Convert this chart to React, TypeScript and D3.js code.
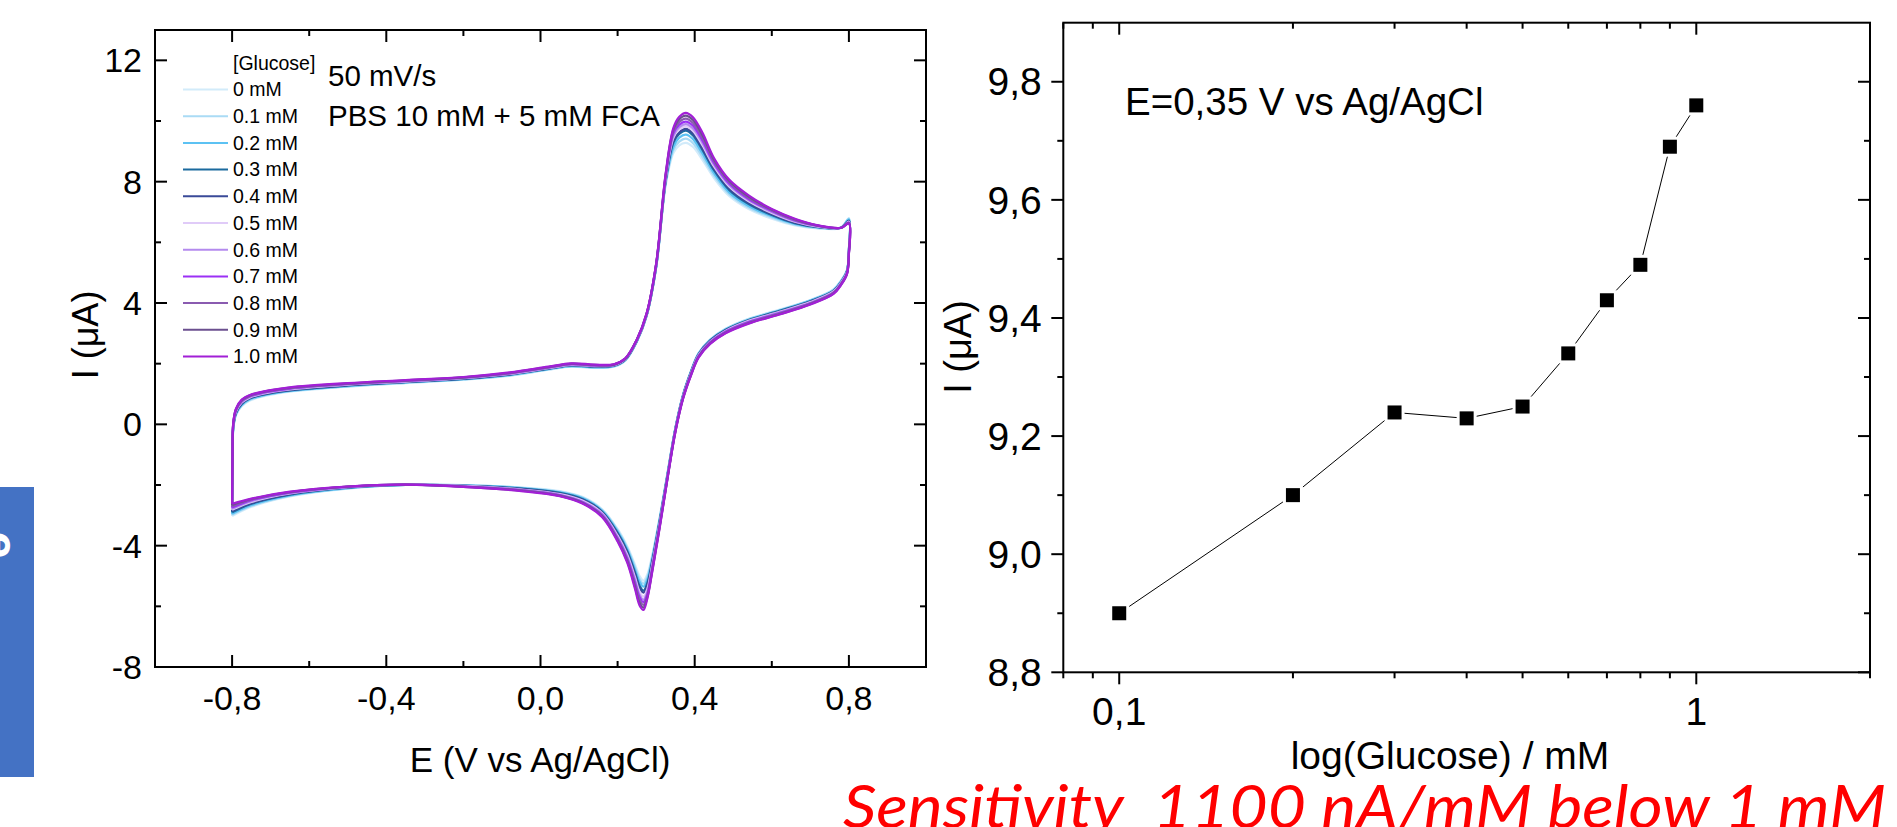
import React from "react";
import * as d3 from "d3";

// ---------------- Left panel: cyclic voltammograms ----------------
const CONC_LABELS = ["0 mM", "0.1 mM", "0.2 mM", "0.3 mM", "0.4 mM", "0.5 mM", "0.6 mM", "0.7 mM", "0.8 mM", "0.9 mM", "1.0 mM"];
const CONC_COLORS = ["#d2ebfa", "#aadbf5", "#5cc2f3", "#1b6a9e", "#3a4a98", "#e0cbf8", "#b48aee", "#9b30f5", "#8a5bb0", "#6b4f8f", "#a21fd6"];

// potential (V) along the loop: forward scan then reverse scan
const E_FWD = [-0.80, -0.799, -0.797, -0.79, -0.775, -0.755, -0.72, -0.65, -0.50, -0.35, -0.20, -0.08, 0.02, 0.08, 0.14, 0.19, 0.22, 0.25, 0.275, 0.30, 0.325, 0.345, 0.36, 0.377, 0.395, 0.42, 0.45, 0.49, 0.54, 0.60, 0.66, 0.72, 0.78, 0.80];
const E_REV = [0.80, 0.795, 0.78, 0.76, 0.70, 0.62, 0.54, 0.48, 0.44, 0.41, 0.39, 0.37, 0.35, 0.33, 0.31, 0.29, 0.277, 0.267, 0.257, 0.245, 0.225, 0.20, 0.16, 0.11, 0.05, -0.05, -0.20, -0.35, -0.50, -0.65, -0.75, -0.80];

// current (µA), forward scan, per concentration
const I_FWD_00 = [-3.02, -1.3, -0.2, 0.3, 0.6, 0.78, 0.92, 1.08, 1.24, 1.36, 1.47, 1.6, 1.8, 1.9, 1.86, 1.9, 2.1, 2.72, 3.55, 5.15, 7.9, 8.95, 9.2, 9.28, 9.15, 8.72, 8.12, 7.52, 7.1, 6.78, 6.56, 6.46, 6.48, 6.8];
const I_FWD_01 = [-2.98, -1.27, -0.17, 0.32, 0.62, 0.8, 0.94, 1.09, 1.25, 1.37, 1.48, 1.61, 1.81, 1.91, 1.87, 1.91, 2.11, 2.73, 3.56, 5.17, 7.95, 9.05, 9.32, 9.42, 9.28, 8.82, 8.2, 7.58, 7.15, 6.82, 6.58, 6.47, 6.49, 6.78];
const I_FWD_02 = [-2.95, -1.24, -0.14, 0.34, 0.64, 0.82, 0.95, 1.1, 1.26, 1.38, 1.49, 1.62, 1.82, 1.92, 1.88, 1.92, 2.12, 2.74, 3.57, 5.18, 8.0, 9.15, 9.45, 9.55, 9.41, 8.93, 8.28, 7.64, 7.2, 6.86, 6.61, 6.49, 6.49, 6.76];
const I_FWD_03 = [-2.9, -1.2, -0.1, 0.37, 0.67, 0.85, 0.98, 1.12, 1.28, 1.39, 1.5, 1.64, 1.83, 1.94, 1.9, 1.93, 2.13, 2.75, 3.58, 5.2, 8.05, 9.3, 9.57, 9.68, 9.53, 9.05, 8.38, 7.72, 7.26, 6.9, 6.63, 6.5, 6.48, 6.72];
const I_FWD_04 = [-2.86, -1.18, -0.08, 0.39, 0.69, 0.86, 0.99, 1.13, 1.29, 1.4, 1.51, 1.65, 1.84, 1.95, 1.91, 1.94, 2.14, 2.76, 3.59, 5.22, 8.08, 9.36, 9.63, 9.74, 9.6, 9.1, 8.44, 7.77, 7.3, 6.93, 6.65, 6.51, 6.48, 6.7];
const I_FWD_05 = [-2.82, -1.15, -0.05, 0.42, 0.72, 0.88, 1.01, 1.15, 1.31, 1.41, 1.52, 1.66, 1.85, 1.96, 1.92, 1.95, 2.15, 2.77, 3.6, 5.24, 8.12, 9.45, 9.72, 9.82, 9.68, 9.2, 8.5, 7.83, 7.35, 6.97, 6.68, 6.52, 6.48, 6.68];
const I_FWD_06 = [-2.78, -1.12, -0.02, 0.44, 0.74, 0.9, 1.03, 1.17, 1.32, 1.42, 1.53, 1.67, 1.86, 1.97, 1.93, 1.96, 2.16, 2.78, 3.61, 5.25, 8.16, 9.52, 9.8, 9.9, 9.76, 9.28, 8.56, 7.88, 7.39, 7.0, 6.7, 6.53, 6.48, 6.66];
const I_FWD_07 = [-2.74, -1.1, 0.0, 0.46, 0.76, 0.92, 1.04, 1.18, 1.33, 1.43, 1.54, 1.68, 1.87, 1.98, 1.94, 1.96, 2.16, 2.78, 3.62, 5.27, 8.2, 9.6, 9.88, 9.98, 9.85, 9.36, 8.62, 7.93, 7.43, 7.03, 6.72, 6.54, 6.48, 6.65];
const I_FWD_08 = [-2.7, -1.06, 0.02, 0.48, 0.78, 0.93, 1.06, 1.19, 1.34, 1.44, 1.55, 1.69, 1.88, 1.99, 1.95, 1.97, 2.17, 2.79, 3.63, 5.28, 8.23, 9.67, 9.97, 10.08, 9.94, 9.45, 8.68, 7.98, 7.47, 7.06, 6.74, 6.55, 6.48, 6.64];
const I_FWD_09 = [-2.66, -1.03, 0.04, 0.5, 0.8, 0.95, 1.07, 1.21, 1.35, 1.45, 1.55, 1.7, 1.89, 2.0, 1.96, 1.97, 2.17, 2.8, 3.64, 5.29, 8.27, 9.73, 10.06, 10.18, 10.04, 9.54, 8.73, 8.02, 7.51, 7.08, 6.76, 6.55, 6.48, 6.63];
const I_FWD_10 = [-2.62, -1.0, 0.05, 0.52, 0.82, 0.96, 1.08, 1.22, 1.36, 1.46, 1.56, 1.71, 1.9, 2.01, 1.97, 1.98, 2.18, 2.8, 3.65, 5.3, 8.3, 9.78, 10.14, 10.27, 10.13, 9.62, 8.78, 8.06, 7.55, 7.1, 6.78, 6.56, 6.48, 6.62];

// current (µA), reverse scan, per concentration
const I_REV_00 = [5.8, 5.1, 4.75, 4.45, 4.1, 3.78, 3.48, 3.15, 2.8, 2.35, 1.75, 1.0, -0.1, -1.55, -3.0, -4.3, -4.95, -5.15, -5.0, -4.62, -4.02, -3.45, -2.8, -2.4, -2.2, -2.08, -2.0, -2.0, -2.12, -2.38, -2.72, -3.02];
const I_REV_01 = [5.78, 5.08, 4.74, 4.44, 4.09, 3.77, 3.47, 3.14, 2.79, 2.34, 1.74, 0.99, -0.11, -1.57, -3.04, -4.36, -5.04, -5.25, -5.1, -4.7, -4.07, -3.49, -2.83, -2.42, -2.22, -2.09, -2.0, -2.0, -2.11, -2.36, -2.69, -2.98];
const I_REV_02 = [5.76, 5.07, 4.72, 4.42, 4.08, 3.75, 3.45, 3.13, 2.78, 2.33, 1.73, 0.98, -0.12, -1.59, -3.07, -4.42, -5.12, -5.35, -5.19, -4.78, -4.12, -3.53, -2.85, -2.44, -2.24, -2.1, -2.01, -2.0, -2.1, -2.34, -2.66, -2.95];
const I_REV_03 = [5.74, 5.05, 4.7, 4.4, 4.06, 3.74, 3.44, 3.11, 2.76, 2.31, 1.71, 0.96, -0.14, -1.62, -3.12, -4.5, -5.24, -5.48, -5.32, -4.88, -4.18, -3.58, -2.88, -2.47, -2.26, -2.12, -2.02, -2.0, -2.09, -2.32, -2.62, -2.9];
const I_REV_04 = [5.72, 5.04, 4.69, 4.39, 4.05, 3.72, 3.42, 3.1, 2.75, 2.3, 1.7, 0.95, -0.15, -1.64, -3.15, -4.55, -5.3, -5.55, -5.39, -4.94, -4.22, -3.62, -2.9, -2.49, -2.28, -2.13, -2.03, -1.99, -2.08, -2.3, -2.6, -2.86];
const I_REV_05 = [5.7, 5.02, 4.68, 4.38, 4.03, 3.71, 3.41, 3.08, 2.73, 2.28, 1.68, 0.93, -0.17, -1.66, -3.19, -4.62, -5.43, -5.68, -5.52, -5.04, -4.3, -3.67, -2.93, -2.52, -2.3, -2.15, -2.03, -1.99, -2.07, -2.28, -2.56, -2.82];
const I_REV_06 = [5.68, 5.0, 4.66, 4.36, 4.01, 3.69, 3.39, 3.06, 2.71, 2.26, 1.66, 0.91, -0.19, -1.68, -3.23, -4.68, -5.52, -5.78, -5.62, -5.12, -4.36, -3.72, -2.96, -2.55, -2.32, -2.16, -2.04, -1.99, -2.06, -2.26, -2.53, -2.78];
const I_REV_07 = [5.66, 4.99, 4.64, 4.34, 3.99, 3.67, 3.37, 3.05, 2.7, 2.25, 1.65, 0.9, -0.2, -1.7, -3.26, -4.73, -5.6, -5.86, -5.7, -5.2, -4.42, -3.76, -2.99, -2.57, -2.33, -2.17, -2.05, -1.99, -2.06, -2.25, -2.5, -2.74];
const I_REV_08 = [5.64, 4.97, 4.63, 4.33, 3.98, 3.65, 3.35, 3.03, 2.68, 2.23, 1.63, 0.88, -0.22, -1.72, -3.29, -4.78, -5.66, -5.95, -5.8, -5.28, -4.48, -3.8, -3.02, -2.59, -2.35, -2.18, -2.05, -1.99, -2.05, -2.24, -2.48, -2.7];
const I_REV_09 = [5.62, 4.96, 4.61, 4.31, 3.96, 3.63, 3.33, 3.01, 2.66, 2.21, 1.61, 0.86, -0.24, -1.74, -3.32, -4.82, -5.71, -6.04, -5.89, -5.35, -4.52, -3.83, -3.04, -2.6, -2.36, -2.19, -2.06, -1.99, -2.05, -2.23, -2.46, -2.66];
const I_REV_10 = [5.6, 4.95, 4.6, 4.3, 3.95, 3.62, 3.32, 3.0, 2.65, 2.2, 1.6, 0.85, -0.25, -1.75, -3.35, -4.85, -5.75, -6.12, -5.97, -5.42, -4.56, -3.86, -3.06, -2.62, -2.37, -2.2, -2.06, -1.99, -2.05, -2.22, -2.45, -2.62];

const I_FWD = [I_FWD_00, I_FWD_01, I_FWD_02, I_FWD_03, I_FWD_04, I_FWD_05, I_FWD_06, I_FWD_07, I_FWD_08, I_FWD_09, I_FWD_10];
const I_REV = [I_REV_00, I_REV_01, I_REV_02, I_REV_03, I_REV_04, I_REV_05, I_REV_06, I_REV_07, I_REV_08, I_REV_09, I_REV_10];

const CV_X_MAJOR = [-0.8, -0.4, 0, 0.4, 0.8];
const CV_X_MINOR = [-0.6, -0.2, 0.2, 0.6];
const CV_Y_MAJOR = [-8, -4, 0, 4, 8, 12];
const CV_Y_MINOR = [-6, -2, 2, 6, 10];

// ---------------- Right panel: calibration ----------------
const CAL_CONC = [0.1, 0.2, 0.3, 0.4, 0.5, 0.6, 0.7, 0.8, 0.9, 1.0];
const CAL_I = [8.90, 9.10, 9.24, 9.23, 9.25, 9.34, 9.43, 9.49, 9.69, 9.76];
const CAL_X_MAJOR = [0.1, 1];
const CAL_X_MINOR = [0.08, 0.09, 0.2, 0.3, 0.4, 0.5, 0.6, 0.7, 0.8, 0.9, 2];
const CAL_Y_MAJOR = [8.8, 9.0, 9.2, 9.4, 9.6, 9.8];
const CAL_Y_MINOR = [8.9, 9.1, 9.3, 9.5, 9.7];

const FONT = "'Liberation Sans', Arial, Helvetica, sans-serif";
const comma = (v: number, f: string) => d3.format(f)(v).replace(".", ",").replace("−", "-");

export default function App() {
  // left scales
  const xL = d3.scaleLinear().domain([-1, 1]).range([155, 926]);
  const yL = d3.scaleLinear().domain([-8, 13]).range([667, 30]);
  // right scales
  const xR = d3.scaleLog().domain([0.08, 2]).range([1063.3, 1870]);
  const yR = d3.scaleLinear().domain([8.8, 9.9]).range([672.3, 22.7]);

  const cvLine = d3
    .line<[number, number]>()
    .x((d) => xL(d[0]))
    .y((d) => yL(d[1]))
    .curve(d3.curveCatmullRom.alpha(0.5));

  const loops = I_FWD.map((fw, k) => {
    const pts: [number, number][] = [];
    E_FWD.forEach((e, i) => pts.push([e, fw[i]]));
    E_REV.forEach((e, i) => pts.push([e, I_REV[k][i]]));
    return pts;
  });

  const calLine = d3
    .line<number>()
    .x((_, i) => xR(CAL_CONC[i]))
    .y((d) => yR(d));

  const L = { x0: 155, x1: 926, y0: 30, y1: 667 };
  const R = { x0: 1063.3, x1: 1870, y0: 22.7, y1: 672.3 };
  const MAJ = 12;
  const MIN = 6;

  const legendY0 = 89.5;
  const legendDY = 26.7;

  return (
    <svg
      width={1897}
      height={827}
      style={{ position: "absolute", left: 0, top: 0, background: "#fff" }}
      fontFamily={FONT}
    >
      <rect x={0} y={0} width={1897} height={827} fill="#fff" />

      {/* blue side tab */}
      <defs>
        <clipPath id="tabclip">
          <rect x={0} y={487} width={34} height={290} />
        </clipPath>
      </defs>
      <rect x={0} y={487} width={34} height={290} fill="#4472C4" />
      <g clipPath="url(#tabclip)">
        <text
          transform="translate(-16,545) rotate(90)"
          fontSize={46}
          fill="#fff"
          fontWeight="bold"
          textAnchor="middle"
          fontFamily="'Open Sans', sans-serif"
        >
          e
        </text>
      </g>

      {/* ---------- LEFT PANEL ---------- */}
      <g>
        {loops.map((pts, k) => (
          <path key={k} d={cvLine(pts) || ""} fill="none" stroke={CONC_COLORS[k]} strokeWidth={2.2} />
        ))}
        <rect x={L.x0} y={L.y0} width={L.x1 - L.x0} height={L.y1 - L.y0} fill="none" stroke="#000" strokeWidth={2} />
        {CV_X_MAJOR.map((v) => (
          <g key={"xm" + v}>
            <line x1={xL(v)} x2={xL(v)} y1={L.y1} y2={L.y1 - MAJ} stroke="#000" strokeWidth={2} />
            <line x1={xL(v)} x2={xL(v)} y1={L.y0} y2={L.y0 + MAJ} stroke="#000" strokeWidth={2} />
            <text x={xL(v)} y={710} fontSize={34} textAnchor="middle">
              {comma(v, ".1f")}
            </text>
          </g>
        ))}
        {CV_X_MINOR.map((v) => (
          <g key={"xn" + v}>
            <line x1={xL(v)} x2={xL(v)} y1={L.y1} y2={L.y1 - MIN} stroke="#000" strokeWidth={2} />
            <line x1={xL(v)} x2={xL(v)} y1={L.y0} y2={L.y0 + MIN} stroke="#000" strokeWidth={2} />
          </g>
        ))}
        {CV_Y_MAJOR.map((v) => (
          <g key={"ym" + v}>
            <line x1={L.x0} x2={L.x0 + MAJ} y1={yL(v)} y2={yL(v)} stroke="#000" strokeWidth={2} />
            <line x1={L.x1} x2={L.x1 - MAJ} y1={yL(v)} y2={yL(v)} stroke="#000" strokeWidth={2} />
            <text x={142} y={yL(v)} dy="0.35em" fontSize={34} textAnchor="end">
              {comma(v, "d")}
            </text>
          </g>
        ))}
        {CV_Y_MINOR.map((v) => (
          <g key={"yn" + v}>
            <line x1={L.x0} x2={L.x0 + MIN} y1={yL(v)} y2={yL(v)} stroke="#000" strokeWidth={2} />
            <line x1={L.x1} x2={L.x1 - MIN} y1={yL(v)} y2={yL(v)} stroke="#000" strokeWidth={2} />
          </g>
        ))}
        <text x={540} y={772} fontSize={35} textAnchor="middle">
          E (V vs Ag/AgCl)
        </text>
        <text transform="translate(98,335) rotate(-90)" fontSize={36} textAnchor="middle">
          I (μA)
        </text>

        {/* legend */}
        <text x={233} y={63.3} dy="0.35em" fontSize={19.5}>
          [Glucose]
        </text>
        {CONC_LABELS.map((lab, k) => (
          <g key={lab}>
            <line x1={183} x2={228} y1={legendY0 + k * legendDY} y2={legendY0 + k * legendDY} stroke={CONC_COLORS[k]} strokeWidth={2} />
            <text x={233} y={legendY0 + k * legendDY} dy="0.35em" fontSize={19.5}>
              {lab}
            </text>
          </g>
        ))}
        <text x={328} y={86} fontSize={29.5}>
          50 mV/s
        </text>
        <text x={328} y={126} fontSize={29.5}>
          PBS 10 mM + 5 mM FCA
        </text>
      </g>

      {/* ---------- RIGHT PANEL ---------- */}
      <g>
        <rect x={R.x0} y={R.y0} width={R.x1 - R.x0} height={R.y1 - R.y0} fill="none" stroke="#000" strokeWidth={2} />
        {CAL_X_MAJOR.map((v) => (
          <g key={"cxm" + v}>
            <line x1={xR(v)} x2={xR(v)} y1={R.y1} y2={R.y1 + MAJ} stroke="#000" strokeWidth={2} />
            <line x1={xR(v)} x2={xR(v)} y1={R.y0} y2={R.y0 + MAJ} stroke="#000" strokeWidth={2} />
            <text x={xR(v)} y={725} fontSize={39} textAnchor="middle">
              {v < 1 ? comma(v, ".1f") : "1"}
            </text>
          </g>
        ))}
        {CAL_X_MINOR.map((v) => (
          <g key={"cxn" + v}>
            <line x1={xR(v)} x2={xR(v)} y1={R.y1} y2={R.y1 + MIN} stroke="#000" strokeWidth={2} />
            <line x1={xR(v)} x2={xR(v)} y1={R.y0} y2={R.y0 + MIN} stroke="#000" strokeWidth={2} />
          </g>
        ))}
        {CAL_Y_MAJOR.map((v) => (
          <g key={"cym" + v}>
            <line x1={R.x0} x2={R.x0 - MAJ} y1={yR(v)} y2={yR(v)} stroke="#000" strokeWidth={2} />
            <line x1={R.x1} x2={R.x1 - MAJ} y1={yR(v)} y2={yR(v)} stroke="#000" strokeWidth={2} />
            <text x={1041.7} y={yR(v)} dy="0.35em" fontSize={39} textAnchor="end">
              {comma(v, ".1f")}
            </text>
          </g>
        ))}
        {CAL_Y_MINOR.map((v) => (
          <g key={"cyn" + v}>
            <line x1={R.x0} x2={R.x0 - MIN} y1={yR(v)} y2={yR(v)} stroke="#000" strokeWidth={2} />
            <line x1={R.x1} x2={R.x1 - MIN} y1={yR(v)} y2={yR(v)} stroke="#000" strokeWidth={2} />
          </g>
        ))}

        <path d={calLine(CAL_I) || ""} fill="none" stroke="#000" strokeWidth={1} />
        {CAL_I.map((v, i) => (
          <g key={"pt" + i}>
            <rect x={xR(CAL_CONC[i]) - 10} y={yR(v) - 10} width={20} height={20} fill="#fff" />
            <rect x={xR(CAL_CONC[i]) - 7} y={yR(v) - 7} width={14} height={14} fill="#000" />
          </g>
        ))}

        <text x={1125} y={115} fontSize={38.5}>
          E=0,35 V vs Ag/AgCl
        </text>
        <text x={1450} y={769} fontSize={39} textAnchor="middle">
          log(Glucose) / mM
        </text>
        <text transform="translate(971,347) rotate(-90)" fontSize={38} textAnchor="middle">
          I (μA)
        </text>
      </g>

      {/* red annotation */}
      <text
        x={843}
        y={828}
        fontSize={60}
        fill="#ff0000"
        fontStyle="italic"
        fontFamily="Lato, 'Open Sans', sans-serif"
        textLength={1043}
        lengthAdjust="spacingAndGlyphs"
      >
        {"Sensitivity\u00A0 1100 nA/mM below 1 mM"}
      </text>
    </svg>
  );
}
